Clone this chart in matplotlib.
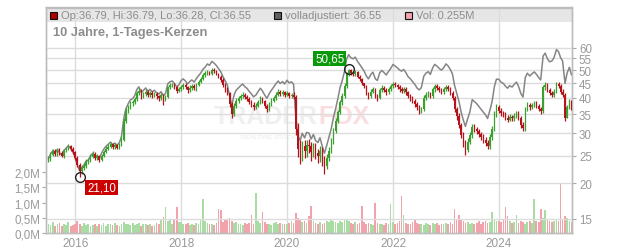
import matplotlib
matplotlib.use("Agg")
import matplotlib.pyplot as plt
from matplotlib.patches import Rectangle
import pandas as pd

plt.rcParams['font.family'] = ['Liberation Sans', 'DejaVu Sans']

# semi-monthly closes, Jul 2015 .. May 2025
close = [
    24.3, 25.2, 26.0, 25.4, 26.2, 25.5, 25.0, 26.0, 26.5, 27.0, 26.4, 25.8,
    24.5, 23.2, 22.0, 22.6, 23.0, 23.8, 24.0, 24.8, 25.4, 24.6, 24.9, 24.2, 25.0, 25.8, 26.5, 26.9, 27.4, 26.8, 27.2, 26.7, 27.3, 28.5, 33.0, 35.8,
    37.0, 38.2, 38.5, 39.5, 41.5, 42.4, 40.5, 41.2, 42.0, 41.0, 41.6, 40.8, 41.3, 40.4, 40.0, 40.8, 39.5, 40.2, 43.5, 44.2, 44.5, 43.6, 42.4, 43.0,
    43.8, 44.4, 43.5, 42.6, 43.4, 44.0, 43.2, 44.5, 45.5, 46.5, 48.0, 48.8, 49.2, 48.6, 50.2, 49.5, 48.5, 47.4, 46.2, 44.5, 42.8, 41.5, 38.0, 35.0,
    37.5, 39.0, 39.8, 40.5, 41.0, 40.2, 39.5, 38.6, 37.8, 37.0, 37.5, 38.5, 39.6, 38.8, 37.4, 36.5, 38.0, 39.0, 40.0, 41.0, 42.0, 41.2, 41.8, 41.0,
    41.5, 40.6, 41.0, 40.2, 31.0, 26.5, 25.5, 27.0, 26.0, 27.2, 27.0, 25.8, 26.8, 25.5, 25.0, 26.0, 24.2, 23.0, 24.5, 26.0, 28.0, 30.5, 33.0, 35.5,
    38.5, 40.5, 44.0, 48.5, 50.2, 49.0, 48.5, 49.2, 47.5, 46.5, 45.0, 44.0, 41.5, 40.5, 42.0, 42.8, 40.5, 40.0, 42.5, 43.4, 42.6, 41.8, 43.0, 44.0,
    44.8, 44.2, 43.5, 42.8, 42.4, 43.0, 41.8, 40.5, 39.8, 39.0, 38.0, 37.0, 35.8, 36.5, 40.0, 41.0, 41.5, 40.6, 42.8, 44.0, 43.4, 42.6, 42.0, 42.8,
    43.5, 42.8, 41.5, 40.0, 36.5, 34.5, 32.0, 29.5, 27.5, 26.2, 28.0, 29.5, 31.5, 31.0, 30.5, 29.8, 29.0, 28.5, 27.8, 27.0, 29.0, 31.0, 35.0, 37.2,
    36.0, 35.2, 34.8, 34.0, 33.5, 34.2, 33.8, 34.5, 35.2, 34.0, 32.0, 31.2, 36.5, 37.8, 37.0, 37.6, 38.2, 37.5, 36.5, 35.8, 43.5, 44.5, 42.5, 41.5,
    40.8, 42.0, 44.8, 44.0, 42.0, 40.8, 34.0, 37.0, 38.8, 36.55,
]

high = [
    24.9, 25.7, 26.5, 26.4, 26.7, 26.6, 25.9, 26.4, 26.9, 27.5, 27.3, 26.8,
    26.0, 24.9, 23.6, 23.2, 23.6, 24.3, 24.5, 25.3, 25.9, 25.7, 25.4, 25.2, 25.4, 26.2, 27.0, 27.4, 27.9, 27.7, 27.8, 27.5, 27.8, 29.3, 34.0, 36.8,
    37.8, 38.9, 39.4, 40.3, 42.2, 43.2, 42.9, 42.0, 42.8, 42.6, 42.2, 42.2, 41.9, 41.8, 41.0, 41.4, 41.2, 40.8, 44.1, 44.9, 45.2, 45.0, 44.0, 43.6,
    44.5, 45.2, 45.0, 44.0, 44.2, 44.8, 44.6, 45.2, 46.2, 47.2, 48.8, 49.6, 50.2, 49.8, 51.0, 50.8, 50.0, 49.0, 47.9, 46.8, 45.0, 43.5, 41.9, 38.5,
    38.3, 39.8, 40.6, 41.3, 41.8, 41.7, 40.9, 40.2, 39.2, 38.5, 38.3, 39.2, 40.4, 40.2, 39.4, 38.0, 38.7, 39.8, 40.7, 41.8, 42.8, 42.6, 42.5, 42.4,
    42.2, 42.0, 41.7, 41.8, 40.8, 32.5, 28.5, 28.2, 28.4, 28.5, 28.6, 28.0, 27.8, 27.6, 26.4, 27.0, 26.8, 25.0, 25.4, 26.8, 28.9, 31.3, 33.8, 36.3,
    39.3, 41.4, 45.0, 49.3, 50.65, 50.4, 49.6, 50.0, 49.6, 48.2, 46.8, 45.2, 44.4, 42.0, 42.8, 43.6, 43.2, 41.2, 43.2, 44.2, 43.9, 43.2, 43.8, 44.8,
    45.6, 45.4, 44.8, 44.2, 43.6, 43.8, 43.6, 42.4, 41.2, 40.5, 39.6, 38.7, 37.6, 37.2, 40.8, 41.8, 42.3, 42.0, 43.6, 44.8, 44.6, 43.9, 43.2, 43.6,
    44.3, 44.2, 43.5, 42.2, 40.7, 37.2, 35.2, 32.6, 30.2, 28.3, 28.8, 30.3, 32.4, 32.2, 31.6, 31.1, 30.4, 29.7, 29.2, 28.4, 29.8, 31.8, 35.8, 38.0,
    37.8, 36.8, 36.0, 35.5, 34.7, 35.0, 34.9, 35.3, 36.0, 35.8, 34.6, 32.8, 37.2, 38.6, 38.4, 38.3, 38.9, 38.8, 38.1, 37.2, 44.3, 45.4, 44.9, 43.2,
    42.3, 42.8, 45.6, 45.5, 44.6, 42.8, 41.5, 37.8, 39.6, 39.2,
]

low = [
    23.8, 24.0, 24.9, 25.0, 25.0, 25.2, 24.7, 24.6, 25.7, 26.1, 26.0, 25.3,
    24.2, 22.9, 21.1, 21.6, 22.2, 22.7, 23.4, 23.7, 24.5, 24.2, 24.2, 23.8, 23.9, 24.7, 25.5, 26.1, 26.6, 26.4, 26.5, 26.3, 26.4, 27.0, 28.2, 32.5,
    35.2, 36.4, 37.5, 37.9, 39.0, 40.9, 39.5, 39.8, 40.6, 40.2, 40.3, 40.0, 40.2, 39.6, 38.8, 39.4, 37.8, 38.9, 39.8, 43.0, 43.6, 42.9, 41.7, 41.9,
    42.3, 43.0, 42.8, 41.6, 41.9, 42.7, 42.5, 42.4, 44.0, 45.0, 46.0, 47.4, 48.0, 48.0, 48.2, 48.7, 48.0, 46.8, 45.5, 43.8, 42.0, 40.8, 37.2, 34.0,
    34.5, 36.8, 38.4, 39.2, 39.8, 39.6, 38.9, 37.9, 37.1, 36.2, 36.4, 37.0, 38.0, 38.2, 36.8, 35.6, 36.0, 37.4, 38.5, 39.4, 40.4, 40.6, 40.7, 40.3,
    40.5, 40.0, 39.9, 39.5, 29.5, 24.8, 23.3, 24.0, 24.5, 24.8, 25.5, 24.0, 24.8, 24.3, 23.5, 23.8, 23.0, 21.5, 22.5, 24.0, 25.5, 27.5, 30.0, 32.5,
    35.0, 37.6, 39.8, 43.2, 47.8, 48.2, 47.8, 47.6, 46.8, 45.7, 44.2, 43.2, 40.8, 39.5, 40.0, 41.4, 39.8, 39.0, 39.6, 42.0, 41.9, 41.0, 41.2, 42.4,
    43.3, 43.5, 42.8, 42.0, 41.6, 41.7, 41.0, 39.8, 39.0, 38.2, 37.2, 36.2, 35.0, 35.2, 35.9, 39.3, 40.3, 39.8, 39.9, 42.0, 42.7, 41.8, 41.2, 41.3,
    42.1, 42.2, 40.8, 39.2, 35.6, 33.5, 31.3, 28.8, 26.8, 25.2, 25.8, 27.4, 28.9, 30.3, 29.8, 29.1, 28.3, 27.8, 27.1, 26.3, 26.5, 28.5, 30.5, 34.2,
    35.3, 34.5, 34.1, 33.3, 32.8, 33.0, 33.1, 33.2, 34.0, 33.3, 31.4, 30.5, 30.6, 35.8, 36.3, 36.4, 37.0, 36.8, 35.8, 35.0, 35.2, 42.7, 41.8, 40.8,
    40.1, 40.2, 41.5, 43.2, 41.3, 40.1, 33.0, 33.8, 36.4, 36.2,
]

# fully adjusted series (grey line)
adjusted = [
    24.4, 25.3, 26.1, 25.5, 26.3, 25.6, 25.1, 26.1, 26.6, 27.1, 26.5, 25.9,
    24.6, 23.3, 22.1, 22.7, 23.1, 23.9, 24.1, 24.9, 25.5, 24.7, 25.0, 24.3, 25.5, 26.3, 27.0, 27.4, 27.9, 27.3, 27.7, 27.2, 27.8, 29.1, 33.7, 36.5,
    38.1, 39.3, 39.7, 40.7, 42.7, 43.7, 41.7, 42.4, 43.3, 42.2, 42.8, 42.0, 42.5, 41.6, 41.2, 42.0, 40.7, 41.4, 44.8, 45.5, 45.8, 44.9, 43.7, 44.3,
    46.0, 46.6, 45.7, 44.7, 45.6, 46.2, 45.4, 46.7, 47.8, 48.8, 50.4, 51.2, 52.6, 52.0, 53.7, 53.0, 51.9, 50.7, 49.4, 47.6, 45.8, 44.4, 40.7, 37.5,
    40.9, 42.5, 43.4, 44.1, 44.7, 43.8, 43.1, 42.1, 41.2, 40.3, 40.9, 42.0, 43.2, 42.3, 40.8, 39.8, 41.4, 42.5, 43.6, 44.7, 45.8, 44.9, 45.6, 44.7,
    46.1, 45.1, 45.5, 44.6, 34.4, 29.4, 28.3, 30.0, 28.9, 30.2, 30.0, 28.6, 29.7, 28.3, 27.8, 28.9, 26.9, 25.5, 27.2, 28.9, 31.1, 33.9, 36.6, 39.4,
    43.5, 45.8, 49.7, 54.8, 56.7, 55.4, 54.8, 55.6, 53.7, 52.5, 50.9, 49.7, 47.7, 46.6, 48.3, 49.2, 46.6, 46.0, 48.9, 49.9, 49.0, 48.1, 49.5, 50.6,
    52.4, 51.7, 50.9, 50.1, 49.6, 50.3, 48.9, 47.4, 46.6, 45.6, 44.5, 43.3, 42.6, 43.4, 47.6, 48.8, 49.4, 48.3, 50.9, 52.4, 51.6, 50.7, 50.0, 50.9,
    52.6, 51.8, 50.2, 48.4, 44.2, 41.7, 38.7, 35.7, 33.3, 31.7, 33.9, 35.7, 39.4, 38.8, 38.1, 37.3, 36.3, 35.6, 34.8, 33.8, 36.3, 38.8, 43.8, 46.5,
    46.4, 45.4, 44.9, 43.9, 43.2, 44.1, 43.6, 44.5, 45.4, 43.9, 41.3, 40.2, 47.1, 48.8, 47.7, 48.5, 49.3, 48.4, 47.1, 46.2, 56.1, 57.4, 54.8, 53.5,
    53.9, 55.4, 59.1, 58.1, 55.4, 53.9, 44.9, 48.8, 51.2, 48.2,
]

# volume in millions
volume = [
    0.30, 0.25, 0.35, 0.22, 0.28, 0.33, 0.24, 0.30, 0.26, 0.35, 0.22, 0.27,
    0.30, 0.38, 0.28, 0.24, 0.33, 0.26, 0.30, 0.22, 0.27, 0.31, 0.24, 0.29, 0.26, 0.33, 0.22, 0.28, 0.30, 0.25, 0.34, 0.27, 0.24, 0.31, 0.36, 0.28,
    0.30, 0.27, 0.33, 0.25, 0.29, 0.34, 0.24, 0.28, 0.31, 0.26, 0.30, 0.24, 0.27, 0.33, 0.29, 0.45, 0.52, 0.85, 0.38, 0.45, 0.30, 0.42, 0.85, 0.36,
    0.35, 0.30, 0.28, 0.33, 0.27, 0.31, 0.26, 0.34, 0.29, 0.45, 1.10, 0.40, 0.33, 0.28, 0.31, 0.26, 0.34, 0.80, 0.75, 0.36, 0.45, 0.42, 0.50, 0.38,
    0.32, 0.36, 0.28, 0.31, 0.27, 0.34, 0.29, 0.33, 0.60, 0.30, 1.30, 0.38, 0.32, 0.70, 0.35, 0.28, 0.31, 0.27, 0.33, 0.36, 0.29, 0.32, 0.28, 0.30,
    0.30, 0.34, 0.38, 0.33, 0.65, 0.50, 0.42, 0.36, 0.40, 0.33, 0.55, 0.90, 0.38, 0.34, 0.31, 0.36, 0.29, 0.33, 0.38, 0.35, 0.45, 0.40, 0.36, 0.33,
    0.40, 0.36, 0.45, 0.42, 0.38, 0.34, 0.31, 0.36, 0.30, 0.33, 0.90, 0.35, 0.28, 0.32, 0.30, 0.27, 1.00, 0.33, 0.29, 0.31, 0.27, 0.34, 0.30, 0.95,
    0.36, 0.30, 0.33, 0.38, 1.20, 0.60, 0.34, 0.29, 0.31, 0.36, 0.45, 0.33, 0.28, 0.31, 0.27, 0.33, 0.30, 0.26, 0.32, 0.29, 0.34, 0.27, 0.31, 0.28,
    0.33, 0.29, 0.36, 0.31, 0.80, 0.45, 0.60, 0.42, 0.38, 0.33, 0.36, 0.30, 0.34, 0.29, 0.32, 0.38, 0.31, 0.35, 0.40, 0.33, 0.37, 0.70, 0.45, 0.38,
    0.40, 0.35, 0.45, 0.85, 0.55, 0.38, 0.33, 0.36, 0.60, 0.34, 0.40, 0.36, 0.31, 0.35, 0.38, 0.33, 1.10, 0.40, 0.36, 0.80, 0.48, 0.75, 0.42, 0.38,
    0.36, 0.40, 0.45, 0.38, 1.60, 0.42, 0.55, 0.48, 0.40, 0.35,
]

price_ticks = [15, 20, 25, 30, 35, 40, 45, 50, 55, 60]
vol_ticks = [0.0, 0.5, 1.0, 1.5, 2.0]
years = [2016, 2018, 2020, 2022, 2024]

low_date, low_val, low_lbl = '2016-02-05', 21.10, '21,10'
high_date, high_val, high_lbl = '2021-03-05', 50.65, '50,65'

dates = pd.date_range('2015-07-01', periods=len(close), freq='SMS')
opens = [close[0]] + close[:-1]
up = [c >= o for o, c in zip(opens, close)]

RED, GREEN = '#b5121b', '#3aa02e'
TXT = '#999999'
GRID = '#dcdcdc'

fig = plt.figure(figsize=(6.32, 2.53), dpi=100)
L, R, B, T = 46 / 632, 572 / 632, 19 / 253, 244.5 / 253
ax_vol = fig.add_axes([L, B, R - L, T - B])
ax = ax_vol.twinx()

# volume (left scale)
vcol = ['#a9dca3' if u else '#f0a3ab' for u in up]
ax_vol.bar(dates, volume, width=12, color=vcol, zorder=2)
ax_vol.set_ylim(0, 7.4)
ax_vol.set_yticks(vol_ticks)
ax_vol.set_yticklabels([('%.1fM' % v).replace('.', ',') for v in vol_ticks])
ax_vol.set_xticks([pd.Timestamp('%d-01-01' % y) for y in years])
ax_vol.set_xticklabels([str(y) for y in years])
ax_vol.set_xlim(pd.Timestamp('2015-06-14'), pd.Timestamp('2025-05-19'))
ax_vol.grid(axis='x', color=GRID, lw=1, zorder=0.5)
ax_vol.set_axisbelow(True)
ax_vol.tick_params(axis='y', direction='out', length=3, color='#aaaaaa', labelcolor=TXT, labelsize=8.3, pad=1)
ax_vol.tick_params(axis='x', length=0, labelcolor=TXT, labelsize=8.5, pad=3)

# header band + watermark
ax_vol.add_patch(Rectangle((0, 1 - 14.5 / 225.5), 1, 14.5 / 225.5, transform=ax_vol.transAxes,
                           facecolor='#e6e6e6', edgecolor='none', zorder=0.2))
ax_vol.text(0.517, 0.52, 'TRADER', transform=ax_vol.transAxes, ha='right', va='center',
            fontsize=18, fontweight='bold', color='#efefef', zorder=0.3)
ax_vol.text(0.517, 0.52, 'FOX', transform=ax_vol.transAxes, ha='left', va='center',
            fontsize=18, fontweight='bold', color='#fbdde0', zorder=0.3)
ax_vol.text(0.46, 0.43, 'REALTIME STOCK SCREENING', transform=ax_vol.transAxes, ha='center', va='center',
            fontsize=4.5, fontweight='bold', color='#f0f0f0', zorder=0.3)

# price (right scale, log)
ax.set_yscale('log')
ax.set_ylim(13.36, 83.1)
ax.set_yticks(price_ticks)
ax.set_yticklabels([str(p) for p in price_ticks])
ax.yaxis.set_minor_locator(plt.NullLocator())
ax.grid(axis='y', color=GRID, lw=1)
ax.set_axisbelow(True)
ax.tick_params(axis='y', which='major', direction='out', length=3, color='#aaaaaa', labelcolor=TXT, labelsize=8.3, pad=2)
ax.tick_params(axis='x', which='both', length=0, labelbottom=False)

ax.plot(dates, adjusted, color='#858585', lw=1.1, zorder=2)
ccol = [GREEN if u else RED for u in up]
ax.vlines(dates, low, high, colors=ccol, lw=0.9, zorder=3)
bottoms = [min(o, c) for o, c in zip(opens, close)]
heights = [max(abs(c - o), 0.15) for o, c in zip(opens, close)]
ax.bar(dates, heights, bottom=bottoms, width=10, color=ccol, zorder=3)

for a in (ax, ax_vol):
    for s in a.spines.values():
        s.set_color('#bdbdbd')
        s.set_linewidth(1)

# min / max markers
ax.plot([pd.Timestamp(low_date)], [low_val], marker='o', ms=7, mfc='none', mec='#222222', mew=1, zorder=5)
ax.annotate(low_lbl, (pd.Timestamp(low_date), low_val), xytext=(7, -11), textcoords='offset pixels',
            ha='left', va='center', color='white', fontsize=8.3, zorder=6,
            bbox=dict(boxstyle='square,pad=0.15', fc='#cc0000', ec='none'))
ax.plot([pd.Timestamp(high_date)], [high_val], marker='o', ms=7, mfc='none', mec='#222222', mew=1, zorder=5)
ax.annotate(high_lbl, (pd.Timestamp(high_date), high_val), xytext=(-5, 10), textcoords='offset pixels',
            ha='right', va='center', color='white', fontsize=8.3, zorder=6,
            bbox=dict(boxstyle='square,pad=0.15', fc='#0a990a', ec='none'))

# header legend
def fx(px):
    return px / 632

def fy(py):
    return 1 - py / 253

for x0, col in [(50, '#b00000'), (274, '#606060'), (405, '#f0a3b0')]:
    fig.patches.append(Rectangle((fx(x0), fy(19.5)), 7 / 632, 7 / 253, transform=fig.transFigure,
                                 facecolor=col, edgecolor='#111111', lw=0.8, zorder=10))
fig.text(fx(61), fy(16), 'Op:36.79, Hi:36.79, Lo:36.28, Cl:36.55', color='#8c8c8c', fontsize=8, va='center')
fig.text(fx(285), fy(16), 'volladjustiert: 36.55', color='#8c8c8c', fontsize=8, va='center')
fig.text(fx(416), fy(16), 'Vol: 0.255M', color='#8c8c8c', fontsize=8, va='center')
fig.text(fx(53), fy(33), '10 Jahre, 1-Tages-Kerzen', color='#8c8c8c', fontsize=9.3, fontweight='bold', va='center')

fig.savefig('out.png', dpi=100)
